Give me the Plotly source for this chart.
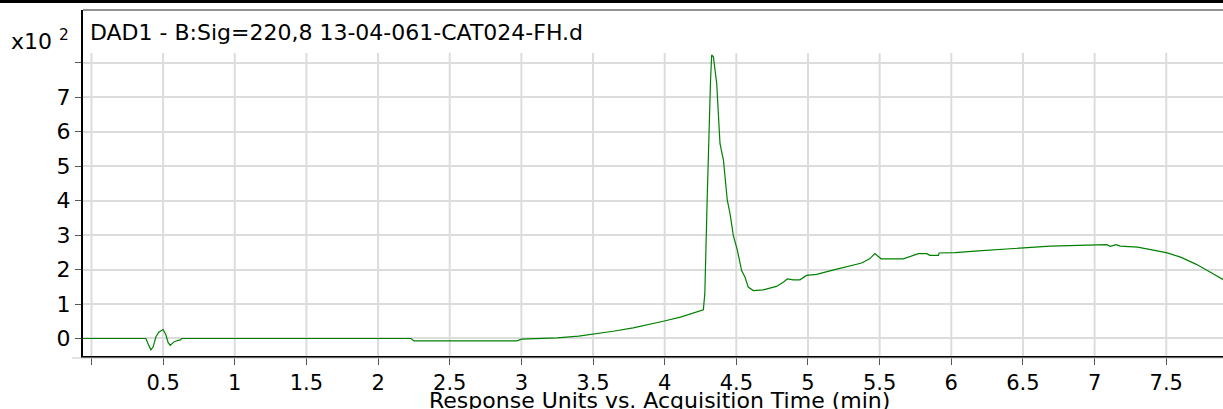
import plotly.graph_objects as go

# --- Chromatogram trace (signal in units of x10^2) ---
time_min = [
    -0.06, 0.38, 0.40, 0.415, 0.43, 0.45, 0.47, 0.50, 0.52, 0.535, 0.55,
    0.575, 0.60, 0.62, 0.63, 2.23, 2.25, 2.97, 3.00, 3.25, 3.40, 3.50,
    3.64, 3.78, 3.92, 3.99, 4.11, 4.27, 4.28, 4.288, 4.297, 4.32, 4.328,
    4.34, 4.363, 4.386, 4.41, 4.437, 4.456, 4.479, 4.507, 4.537, 4.56,
    4.583, 4.618, 4.688, 4.78, 4.83, 4.856, 4.897, 4.944, 4.99, 5.06,
    5.18, 5.27, 5.375, 5.43, 5.467, 5.51, 5.665, 5.77, 5.83, 5.85, 5.91,
    5.915, 6.026, 6.19, 6.34, 6.48, 6.69, 7.085, 7.11, 7.15, 7.18, 7.30,
    7.39, 7.50, 7.60, 7.71, 7.805, 7.90,
]
signal = [
    0.0, 0.0, -0.2, -0.33, -0.25, 0.05, 0.18, 0.26, 0.1, -0.12, -0.2,
    -0.1, -0.06, -0.04, 0.0, 0.0, -0.07, -0.07, -0.02, 0.02, 0.07, 0.125,
    0.21, 0.31, 0.43, 0.50, 0.62, 0.83, 1.30, 2.94, 4.10, 7.49, 8.22,
    8.17, 7.40, 5.65, 5.17, 4.01, 3.62, 2.99, 2.56, 1.97, 1.78,
    1.49, 1.39, 1.41, 1.51, 1.64, 1.73, 1.70, 1.70, 1.83, 1.86,
    1.99, 2.09, 2.19, 2.31, 2.46, 2.31, 2.31, 2.46, 2.46, 2.41, 2.41,
    2.48, 2.49, 2.54, 2.58, 2.63, 2.68, 2.72, 2.67, 2.72, 2.68, 2.65,
    2.58, 2.49, 2.36, 2.15, 1.93, 1.70,
]

x_ticks = [0, 0.5, 1, 1.5, 2, 2.5, 3, 3.5, 4, 4.5, 5, 5.5, 6, 6.5, 7, 7.5]
x_labels = ["", "0.5", "1", "1.5", "2", "2.5", "3", "3.5", "4", "4.5",
            "5", "5.5", "6", "6.5", "7", "7.5"]
y_ticks = [0, 1, 2, 3, 4, 5, 6, 7, 8]
y_labels = ["0", "1", "2", "3", "4", "5", "6", "7", ""]

TITLE = "DAD1 - B:Sig=220,8 13-04-061-CAT024-FH.d"
X_TITLE = "Response Units vs. Acquisition Time (min)"

FONT = "'DejaVu Sans', Arial, sans-serif"
INK = "#000000"
GRID = "#dcdcdc"
TRACE = "#008000"

W, H = 1223, 409
M_L, M_R, M_T, M_B = 83, 0, 10, 53
PW, PH = W - M_L - M_R, H - M_T - M_B

X_RANGE = [-0.059, 7.896]
Y_RANGE = [-0.508, 9.526]
GRID_TOP = 8.28  # vertical grid stops a bit below the title band


def px_x(px):
    return (px - M_L) / PW


def px_y(py):
    return (H - M_B - py) / PH


fig = go.Figure(go.Scatter(
    x=time_min, y=signal, mode="lines",
    line=dict(color=TRACE, width=1.2),
    hoverinfo="skip",
))

# vertical grid lines, stopping short of the title band
for t in x_ticks:
    fig.add_shape(type="line", xref="x", yref="y", x0=t, x1=t,
                  y0=Y_RANGE[0], y1=GRID_TOP, layer="below",
                  line=dict(color=GRID, width=2))

# heavy rule across the very top of the page
fig.add_shape(type="line", xref="paper", yref="paper",
              x0=px_x(0), x1=px_x(W), y0=px_y(1.5), y1=px_y(1.5),
              line=dict(color=INK, width=3))
# thin top edge of the plot box
fig.add_shape(type="line", xref="paper", yref="paper",
              x0=0, x1=1, y0=1, y1=1, line=dict(color="#222222", width=1))
# faint line right under the x axis
fig.add_shape(type="line", xref="paper", yref="paper",
              x0=px_x(72), x1=1, y0=px_y(358), y1=px_y(358),
              line=dict(color="#c8c8c8", width=1))

fig.add_annotation(text=TITLE, xref="paper", yref="paper",
                   x=px_x(88), y=px_y(32), xanchor="left", yanchor="middle",
                   showarrow=False, font=dict(size=22, color=INK, family=FONT))
fig.add_annotation(text="x10 <sup>2</sup>", xref="paper", yref="paper",
                   x=px_x(9), y=px_y(40), xanchor="left", yanchor="middle",
                   showarrow=False, font=dict(size=22, color=INK, family=FONT))
fig.add_annotation(text=X_TITLE, xref="paper", yref="paper",
                   x=px_x(659), y=px_y(400), xanchor="center", yanchor="middle",
                   showarrow=False, font=dict(size=22, color=INK, family=FONT))

fig.update_layout(
    width=W, height=H,
    paper_bgcolor="#ffffff", plot_bgcolor="#ffffff",
    margin=dict(l=M_L, r=M_R, t=M_T, b=M_B, pad=0, autoexpand=False),
    font=dict(family=FONT, size=22, color=INK),
    showlegend=False,
)
fig.update_xaxes(
    range=X_RANGE, tickmode="array", tickvals=x_ticks, ticktext=x_labels,
    showgrid=False, zeroline=False, automargin=False,
    showline=True, linecolor=INK, linewidth=2,
    ticks="outside", ticklen=7, tickwidth=1, tickcolor="#555555",
    tickfont=dict(size=21, color=INK, family=FONT),
)
fig.update_yaxes(
    range=Y_RANGE, tickmode="array", tickvals=y_ticks, ticktext=y_labels,
    showgrid=True, gridcolor=GRID, gridwidth=2, zeroline=False,
    automargin=False,
    showline=True, linecolor=INK, linewidth=2,
    ticks="outside", ticklen=6, tickwidth=1, tickcolor="#555555",
    tickfont=dict(size=22, color=INK, family=FONT),
)

# the page body's default 8px margin would shift the whole figure
fig.write_html("out.html", config={"displayModeBar": False},
               post_script="document.body.style.margin='0';")
